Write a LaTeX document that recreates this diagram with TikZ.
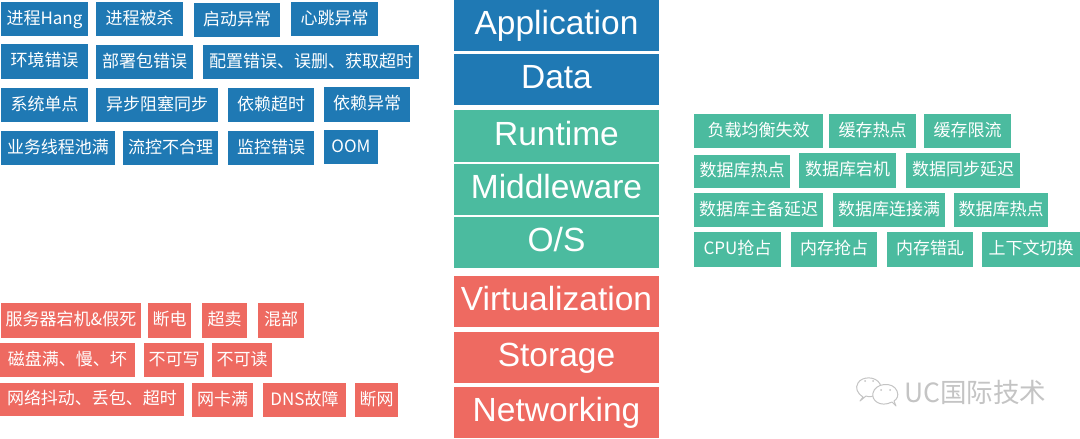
\documentclass[tikz,border=0pt]{standalone}
\usepackage{fontspec}
\setmainfont{Liberation Sans}
\newfontfamily\cjkfont{Noto Sans CJK SC}
\definecolor{appblue}{HTML}{1F79B4}
\definecolor{midgreen}{HTML}{4BBB9F}
\definecolor{infrared}{HTML}{EE6A61}
\definecolor{markgray}{HTML}{C4C4C4}
\tikzset{
  tagbox/.style={inner sep=0pt,text=white,font=\cjkfont\fontsize{17}{19}\selectfont,text height=13pt,text depth=3pt,align=center},
  layerbox/.style={inner sep=0pt,text=white,font=\fontsize{33.5}{36}\selectfont,text height=24.5pt,text depth=6.5pt},
  bluefill/.style={fill=appblue},
  greenfill/.style={fill=midgreen},
  redfill/.style={fill=infrared},
  bubble/.style={draw=markgray,line width=1pt,fill=white,line join=round}
}
% \boxat{style}{name}{x0}{y0}{x1}{y1}{text}: a filled box given by its pixel corners
\newcommand{\boxat}[7]{%
  \node[#1,minimum width={(#5-#3)*1pt},minimum height={(#6-#4)*1pt}] (#2) at ({(#3+#5)/2},{(#4+#6)/2}) {#7};}
\begin{document}
\begin{tikzpicture}[x=1pt,y=-1pt]
\useasboundingbox[fill=white] (0,0) rectangle (1080,439);

% central layer stack
\boxat{layerbox,bluefill}{application}{454}{0}{659}{51}{Application}
\boxat{layerbox,bluefill}{data}{454}{54}{659}{105}{Data}
\boxat{layerbox,greenfill}{runtime}{454}{110}{659}{162}{Runtime}
\boxat{layerbox,greenfill}{middleware}{454}{164}{659}{215}{Middleware}
\boxat{layerbox,greenfill}{os}{454}{217}{659}{268}{O/S}
\boxat{layerbox,redfill}{virtualization}{454}{276}{659}{327}{Virtualization}
\boxat{layerbox,redfill}{storage}{454}{332}{659}{383}{Storage}
\boxat{layerbox,redfill}{networking}{454}{387}{659}{438}{Networking}

% application and data faults
\boxat{tagbox,bluefill}{b1}{1}{2}{88}{36}{进程Hang}
\boxat{tagbox,bluefill}{b2}{96}{2}{183}{36}{进程被杀}
\boxat{tagbox,bluefill}{b3}{194}{3}{280}{37}{启动异常}
\boxat{tagbox,bluefill}{b4}{291}{2}{378}{36}{心跳异常}
\boxat{tagbox,bluefill}{b5}{1}{44}{88}{79}{环境错误}
\boxat{tagbox,bluefill}{b6}{96}{45}{193}{79}{部署包错误}
\boxat{tagbox,bluefill}{b7}{203}{45}{419}{79}{配置错误、误删、获取超时}
\boxat{tagbox,bluefill}{b8}{1}{88}{88}{122}{系统单点}
\boxat{tagbox,bluefill}{b9}{96}{88}{218}{122}{异步阻塞同步}
\boxat{tagbox,bluefill}{b10}{228}{88}{314}{122}{依赖超时}
\boxat{tagbox,bluefill}{b11}{324}{87}{410}{122}{依赖异常}
\boxat{tagbox,bluefill}{b12}{1}{131}{115}{165}{业务线程池满}
\boxat{tagbox,bluefill}{b13}{123}{131}{218}{165}{流控不合理}
\boxat{tagbox,bluefill}{b14}{228}{131}{314}{165}{监控错误}
\boxat{tagbox,bluefill}{b15}{324}{130}{378}{164}{OOM}

% infrastructure faults
\boxat{tagbox,redfill}{r1}{1}{303}{141}{338}{服务器宕机\&假死}
\boxat{tagbox,redfill}{r2}{148}{303}{191}{338}{断电}
\boxat{tagbox,redfill}{r3}{202}{303}{247}{338}{超卖}
\boxat{tagbox,redfill}{r4}{258}{303}{304}{338}{混部}
\boxat{tagbox,redfill}{r5}{0}{343}{135}{377}{磁盘满、慢、坏}
\boxat{tagbox,redfill}{r6}{144}{343}{204}{377}{不可写}
\boxat{tagbox,redfill}{r7}{212}{343}{272}{377}{不可读}
\boxat{tagbox,redfill}{r8}{0}{383}{184}{416}{网络抖动、丢包、超时}
\boxat{tagbox,redfill}{r9}{192}{383}{253}{417}{网卡满}
\boxat{tagbox,redfill}{r10}{263}{383}{346}{417}{DNS故障}
\boxat{tagbox,redfill}{r11}{355}{383}{398}{417}{断网}

% middleware and runtime faults
\boxat{tagbox,greenfill}{g1}{694}{114}{823}{148}{负载均衡失效}
\boxat{tagbox,greenfill}{g2}{829}{114}{916}{148}{缓存热点}
\boxat{tagbox,greenfill}{g3}{924}{114}{1011}{148}{缓存限流}
\boxat{tagbox,greenfill}{g4}{694}{155}{790}{188}{数据库热点}
\boxat{tagbox,greenfill}{g5}{799}{153}{896}{188}{数据库宕机}
\boxat{tagbox,greenfill}{g6}{906}{153}{1020}{188}{数据同步延迟}
\boxat{tagbox,greenfill}{g7}{694}{193}{823}{227}{数据库主备延迟}
\boxat{tagbox,greenfill}{g8}{833}{193}{945}{227}{数据库连接满}
\boxat{tagbox,greenfill}{g9}{954}{193}{1048}{227}{数据库热点}
\boxat{tagbox,greenfill}{g10}{694}{232}{781}{267}{CPU抢占}
\boxat{tagbox,greenfill}{g11}{791}{232}{877}{267}{内存抢占}
\boxat{tagbox,greenfill}{g12}{887}{232}{973}{267}{内存错乱}
\boxat{tagbox,greenfill}{g13}{982}{232}{1080}{267}{上下文切换}

% chat-bubble logo beside the account name
\draw[bubble] (863,397) .. controls (857,393) and (855,388) .. (858,383)
  .. controls (862,376) and (876,376) .. (880,384)
  .. controls (884,392) and (872,399) .. (866,396) -- (860,401) -- cycle;
\fill[markgray] (865,381) circle (1pt) (873,381) circle (1pt);
\draw[bubble] (892,402) .. controls (880,408) and (871,400) .. (873,393)
  .. controls (875,383) and (893,381) .. (897,391)
  .. controls (899,396) and (897,399) .. (894,401) -- (896,406) -- cycle;
\fill[markgray] (881,390) circle (1pt) (890,390) circle (1pt);
\node[inner sep=0pt,anchor=west,text=markgray,font=\cjkfont\fontsize{26.5}{29}\selectfont] (mark) at (904,392) {UC国际技术};
\end{tikzpicture}
\end{document}
